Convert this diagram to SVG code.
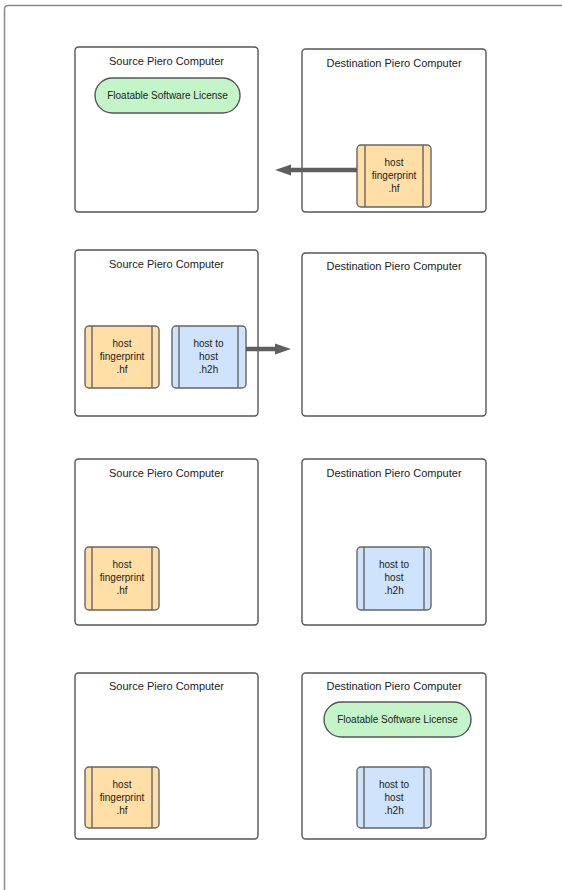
<svg xmlns="http://www.w3.org/2000/svg" width="562" height="890" viewBox="0 0 562 890">
<defs>
<style>
.frame{fill:none;stroke:#8a8a8a;stroke-width:1.5}
.box{fill:#fff;stroke:#555;stroke-width:1.4}
.title{font-family:"Liberation Sans",Arial,sans-serif;font-size:11px;fill:#222;text-anchor:middle}
.lbl{font-family:"Liberation Sans",Arial,sans-serif;font-size:10px;fill:#222;text-anchor:middle}
.pill{fill:#c3f5c8;stroke:#555;stroke-width:1.4}
.hf{fill:#ffdfa6;stroke:#666;stroke-width:1.4}
.h2h{fill:#cfe3fd;stroke:#666;stroke-width:1.4}
.div{stroke:#666;stroke-width:1.4}
.conn{stroke:#5f5f5f;stroke-width:4.5;fill:none}
</style>
<marker id="ah" markerUnits="userSpaceOnUse" markerWidth="16" markerHeight="12" refX="2" refY="6" orient="auto">
<path d="M0,0.5 L16,6 L0,11.5 z" fill="#5f5f5f"/>
</marker>
</defs>
<rect width="562" height="890" fill="#fff"/>
<path class="frame" d="M4.5,900 V9.5 Q4.5,5.5 8.5,5.5 H570"/>

<!-- Row 1 -->
<g id="src1">
<rect class="box" x="75" y="47" width="183" height="165" rx="3.5"/>
<text class="title" x="166.5" y="64.5">Source Piero Computer</text>
</g>
<g id="license1">
<rect class="pill" x="95" y="78" width="145" height="35" rx="17.5"/>
<text class="lbl" x="167.5" y="99">Floatable Software License</text>
</g>
<g id="dst1">
<rect class="box" x="302" y="49" width="184" height="163" rx="3.5"/>
<text class="title" x="394" y="66.5">Destination Piero Computer</text>
</g>
<g id="hf1">
<rect class="hf" x="357" y="145" width="74" height="62" rx="4"/>
<line class="div" x1="365" y1="145" x2="365" y2="207"/>
<line class="div" x1="423" y1="145" x2="423" y2="207"/>
<text class="lbl" x="394" y="165.5">host</text>
<text class="lbl" x="394" y="178.5">fingerprint</text>
<text class="lbl" x="394" y="191.5">.hf</text>
</g>

<!-- Row 2 -->
<g id="src2">
<rect class="box" x="75" y="250" width="183" height="166" rx="3.5"/>
<text class="title" x="166.5" y="268">Source Piero Computer</text>
</g>
<g id="hf2">
<rect class="hf" x="85" y="326" width="74" height="62" rx="4"/>
<line class="div" x1="92" y1="326" x2="92" y2="388"/>
<line class="div" x1="152" y1="326" x2="152" y2="388"/>
<text class="lbl" x="122" y="346.5">host</text>
<text class="lbl" x="122" y="359.5">fingerprint</text>
<text class="lbl" x="122" y="372.5">.hf</text>
</g>
<g id="h2h2">
<rect class="h2h" x="172" y="326" width="74" height="62" rx="4"/>
<line class="div" x1="179" y1="326" x2="179" y2="388"/>
<line class="div" x1="238" y1="326" x2="238" y2="388"/>
<text class="lbl" x="208.5" y="346.5">host to</text>
<text class="lbl" x="208.5" y="359.5">host</text>
<text class="lbl" x="208.5" y="372.5">.h2h</text>
</g>
<g id="dst2">
<rect class="box" x="302" y="253" width="184" height="163" rx="3.5"/>
<text class="title" x="394" y="270">Destination Piero Computer</text>
</g>

<!-- Row 3 -->
<g id="src3">
<rect class="box" x="75" y="459" width="183" height="166" rx="3.5"/>
<text class="title" x="166.5" y="477">Source Piero Computer</text>
</g>
<g id="hf3">
<rect class="hf" x="85" y="547" width="74" height="63" rx="4"/>
<line class="div" x1="92" y1="547" x2="92" y2="610"/>
<line class="div" x1="152" y1="547" x2="152" y2="610"/>
<text class="lbl" x="122" y="568">host</text>
<text class="lbl" x="122" y="581">fingerprint</text>
<text class="lbl" x="122" y="594">.hf</text>
</g>
<g id="dst3">
<rect class="box" x="302" y="459" width="184" height="166" rx="3.5"/>
<text class="title" x="394" y="477">Destination Piero Computer</text>
</g>
<g id="h2h3">
<rect class="h2h" x="357" y="547" width="74" height="63" rx="4"/>
<line class="div" x1="364" y1="547" x2="364" y2="610"/>
<line class="div" x1="424" y1="547" x2="424" y2="610"/>
<text class="lbl" x="394" y="568">host to</text>
<text class="lbl" x="394" y="581">host</text>
<text class="lbl" x="394" y="594">.h2h</text>
</g>

<!-- Row 4 -->
<g id="src4">
<rect class="box" x="75" y="673" width="183" height="166" rx="3.5"/>
<text class="title" x="166.5" y="690">Source Piero Computer</text>
</g>
<g id="hf4">
<rect class="hf" x="85" y="767" width="74" height="61" rx="4"/>
<line class="div" x1="92" y1="767" x2="92" y2="828"/>
<line class="div" x1="152" y1="767" x2="152" y2="828"/>
<text class="lbl" x="122" y="787.5">host</text>
<text class="lbl" x="122" y="800.5">fingerprint</text>
<text class="lbl" x="122" y="813.5">.hf</text>
</g>
<g id="dst4">
<rect class="box" x="302" y="673" width="184" height="166" rx="3.5"/>
<text class="title" x="394" y="690">Destination Piero Computer</text>
</g>
<g id="license4">
<rect class="pill" x="324" y="702" width="147" height="35" rx="17.5"/>
<text class="lbl" x="397.5" y="723">Floatable Software License</text>
</g>
<g id="h2h4">
<rect class="h2h" x="357" y="767" width="74" height="61" rx="4"/>
<line class="div" x1="364" y1="767" x2="364" y2="828"/>
<line class="div" x1="424" y1="767" x2="424" y2="828"/>
<text class="lbl" x="394" y="787.5">host to</text>
<text class="lbl" x="394" y="800.5">host</text>
<text class="lbl" x="394" y="813.5">.h2h</text>
</g>

<g id="connectors">
<line class="conn" x1="357" y1="170" x2="289" y2="170" marker-end="url(#ah)"/>
<line class="conn" x1="246" y1="349" x2="277" y2="349" marker-end="url(#ah)"/>
</g>
</svg>
